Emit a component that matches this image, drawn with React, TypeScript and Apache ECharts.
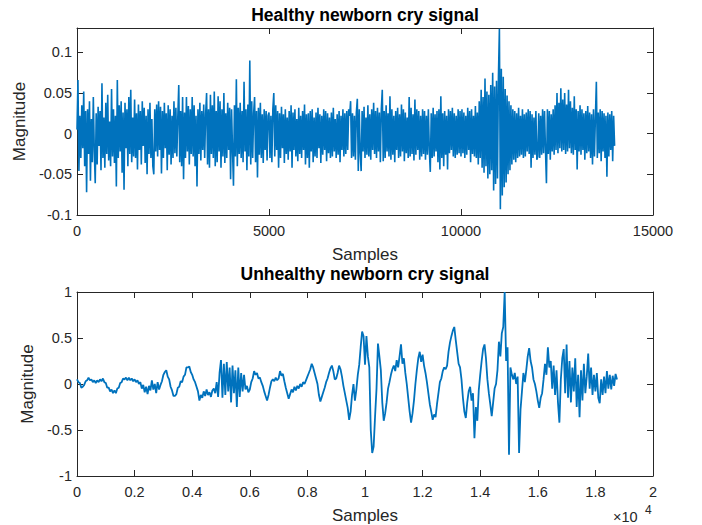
import React, { useEffect, useRef } from "react";
import * as echarts from "echarts";

// ---- Data ----
const healthyStep = 25; // samples between stored values
// healthy cry signal, magnitude in thousandths
const healthyMilli = [
  5, 66, -46, 22, -30, 35, -18, 52, -40, 28, -72, 30, -25, 40, -58, 18, -35, 45, -20, -61, 25, -38, 33, -15, 28, -45, 62, -30, 20, -42, 38, -25, 48, -33, 15, -40, 55, -28, 30, -36,
  22, -65, 66, -30, 35, -22, 40, -48, 26, -69, 38, -18, 30, -40, 45, -25, 54, -35, 20, -28, 42, -30, 25, -44, 36, -20, 28, -38, 40, -15, 32, -36, 22, -50, 30, -25, 38, -30, 18, -40,
  -50, 30, -22, 36, -28, 40, -20, 33, -49, 28, -30, 38, -18, 25, -45, 35, -26, 30, -38, 22, -30, 40, -24, 32, -28, 20, 60, -35, 28, -40, 45, -56, 26, -30, 45, -22, 34, -38, 30, -25,
  45, -28, 35, -40, 22, -65, 30, -25, 38, -33, 28, -20, 36, -30, 24, 50, -38, 30, -42, 48, -25, 35, -30, 52, -40, 28, -35, 46, -22, 40, -42, 30, -28, 50, -36, 25, -30, 38, -20, 32,
  -56, 30, -20, -64, 35, -28, 67, -40, 32, -25, 38, -30, 28, -35, 64, -22, 30, -45, 36, -28, 90, -38, 40, -30, 25, 45, -35, 28, -54, 32, -26, 38, -30, 24, -36, 30, -20, 28, -33, 22,
  26, -30, 22, -35, 30, 50, -28, 35, -20, 28, -42, 25, -30, 33, -18, 24, -36, 30, -25, 20, -32, 28, -22, 35, -42, 26, -20, 30, -28, 18, -34, 32, -25, 22, -30, 28, -20, 36, -38, 24,
  -30, 25, -42, 28, -22, 30, -35, 20, -28, 26, -30, 32, -18, 24, -36, 22, -26, 30, -20, 28, -34, 25, -24, 20, -30, 26, -28, 32, -22, 18, -30, 24, -26, 28, -35, 22, -20, 30, -28, 25,
  -25, 28, -20, 30, 22, 40, -30, 25, -28, 22, -32, 26, 43, -46, 30, -24, -46, 28, -22, 33, -30, 20, -26, 35, -28, 24, -32, 30, -20, 38, -25, 28, -30, 32, -22, 26, -35, 30, 54, -34,
  28, -30, 35, -22, 25, -28, 46, -32, 30, -26, 22, -35, 28, -20, 32, -30, 24, -28, 36, -22, 30, -34, 26, -24, 20, -30, 45, -28, 32, -25, 24, -33, 42, -26, 30, -20, 28, -32, 22, -28,
  30, -25, 28, -32, 22, -26, 30, -20, -47, 25, -30, 32, -28, 24, -22, 28, -35, 30, -44, 46, -30, 25, -40, 28, -26, 22, -44, 30, -24, 28, -20, 32, -28, 25, -30, 22, -26, 30, -24, 28,
  -28, 30, -24, 26, -30, 22, -26, 32, -20, 28, -35, 30, -25, 22, -28, 34, -30, 26, -38, 40, -30, 54, -42, 45, -48, 68, -40, 52, -55, 48, -50, 60, -45, 75, -70, 58, -62, 65, -55, 70,
  129, -93, 80, -76, 70, -66, 55, -60, 47, -50, 40, -45, 35, -38, 30, -32, 28, -35, 25, -30, 32, -28, 22, -26, 30, -30, 24, -28, 26, -22, 30, -25, 28, -42, 24, -30, 20, -26, 28, -32,
  -28, 25, -30, 22, -26, 30, -24, 28, -20, -61, 30, -25, 28, -32, 24, -22, 30, -26, 35, -20, 50, -24, 38, -18, 56, -22, 42, -20, 50, -25, 36, -22, 54, -18, 40, -24, 32, -26, 46, -20,
  30, -44, 28, -22, 35, -26, 30, -20, 25, -32, 28, -24, 34, -22, 26, -30, 24, -38, 30, -28, 20, 64, -30, 26, -24, 30, -34, 28, -22, 25, -30, 22, -53, 26, -28, 24, -20, 28, -34, 22,
  -15,
];

const unhealthyStep = 50;
// unhealthy cry signal, magnitude in hundredths
const unhealthyCenti = [
  5, 2, 1, -4, -3, -1, 3, 4, 7, 4, 5, 2, 4, 1, 4, 2, 5, 3, 6, 2,
  1, -4, -4, -8, -6, -10, -7, -10, -5, -4, 1, 2, 6, 5, 7, 4, 7, 4, 6, 3,
  5, 2, 4, 0, 2, -5, -1, -9, -3, -11, -2, -7, 4, -6, 0, -10, 2, -6, -1, 3,
  10, 13, 15, 8, 5, -3, -7, -13, -13, -11, -4, -3, 3, 2, 8, 10, 18, 18, 19, 13,
  10, 5, 2, -3, -8, -18, -12, -15, -8, -13, -6, -12, -9, -14, -7, -5, -10, 2, -14, 12,
  26, -15, 22, -12, 24, -8, 18, -20, 20, -10, 15, -25, 18, -14, 12, -8, 10, -6, -2, -9,
  -6, 2, 6, 14, 10, 12, 6, 7, 2, -2, -8, -13, -18, -12, -4, 3, 5, 3, 7, 4,
  6, 14, 9, 11, 3, -4, -10, -16, -11, -6, -9, -3, -7, -2, -5, 0, -3, 2, 0, 4,
  8, 12, 16, 22, 18, 12, 6, 0, -12, -19, -14, -9, -4, 2, 6, 12, 17, 20, 14, 5,
  6, 12, 20, 16, 8, -2, -10, -18, -26, -39, -30, -12, 0, -18, -6, 10, 21, 40, 57, 52,
  21, 52, 30, 18, -50, -75, -68, -35, -5, 44, 30, 15, -20, -40, -32, -20, -5, 2, 10, 16,
  20, 14, 26, 18, 30, 43, 22, 28, 12, 0, -15, -30, -42, -32, -18, 0, 15, 28, 35, 24,
  32, 20, 12, 2, -10, -22, -30, -39, -33, -36, -22, -10, 2, 6, 14, 18, 16, 20, 35, 45,
  52, 58, 62, 48, 35, 22, 18, 5, -15, -30, -37, -20, -8, -3, -18, -10, -59, -25, -40, -7,
  10, 25, 38, 43, 28, 5, -10, -22, -35, -20, -5, 0, 15, 46, 30, 55, 62, 100, 25, 40,
  -77, 18, 10, 5, 12, 0, 8, -75, -28, -8, 12, 2, 15, 30, 39, 25, 18, 5, 0, -8,
  -18, -26, -15, -10, 5, 22, 10, 40, 18, 25, -5, 20, -12, 15, -20, -42, 5, 28, 38, -10,
  43, -15, 25, -20, 18, -8, 28, -25, 10, -36, 15, -18, 22, -10, 8, 33, -5, 18, -12, 10,
  -8, 12, -15, -21, 5, -12, 8, -10, 14, -5, 10, -6, 9, -2, 11, 5,
];

const titles = ["Healthy newborn cry signal", "Unhealthy newborn cry signal"];
const xName = "Samples";
const yName = "Magnitude";
const topX = { min: 0, max: 15000, interval: 5000 };
const topY = { min: -0.1, max: 0.13, interval: 0.05 };
const botX = { min: 0, max: 20000, interval: 2000 };
const botY = { min: -1, max: 1, interval: 0.5 };
const expText = "×10";
const expSup = "4";

const FONT = '"Liberation Sans", Arial, Helvetica, sans-serif';
const AX = "#262626";
const LINE = "#0072BD";

function axisBase(range: any, position: string, gridIndex: number, showLabel: boolean) {
  return {
    type: "value",
    gridIndex,
    position,
    min: range.min,
    max: range.max,
    interval: range.interval,
    axisLine: { show: true, onZero: false, lineStyle: { color: AX, width: 1 } },
    axisTick: { show: true, inside: true, length: 6, lineStyle: { color: AX, width: 1 } },
    axisLabel: {
      show: showLabel,
      color: AX,
      fontSize: 14.5,
      fontFamily: FONT,
      showMaxLabel: range.max === 0.13 ? false : undefined,
      formatter: (v: number) => String(v),
    },
    splitLine: { show: false },
  };
}

export default function App() {
  const ref = useRef<HTMLDivElement>(null);
  useEffect(() => {
    if (!ref.current) return;
    const chart = echarts.init(ref.current, undefined, { renderer: "svg" });

    const xLabelName = {
      name: xName,
      nameLocation: "middle",
      nameGap: 31,
      nameTextStyle: { color: AX, fontSize: 17, fontFamily: FONT },
    };
    const yLabelName = {
      name: yName,
      nameLocation: "middle",
      nameGap: 41,
      nameTextStyle: { color: AX, fontSize: 17, fontFamily: FONT },
    };

    const x0: any = { ...axisBase(topX, "bottom", 0, true), ...xLabelName };
    x0.axisLabel.margin = 8;
    const x1: any = axisBase(topX, "top", 0, false);
    const x2: any = { ...axisBase(botX, "bottom", 1, true), ...xLabelName };
    x2.axisLabel.margin = 8;
    x2.axisLabel.formatter = (v: number) => String(Number((v / 10000).toFixed(1)));
    const x3: any = axisBase(botX, "top", 1, false);

    const y0: any = { ...axisBase(topY, "left", 0, true), ...yLabelName };
    y0.axisLabel.margin = 5;
    const y1: any = axisBase(topY, "right", 0, false);
    const y2: any = { ...axisBase(botY, "left", 1, true), ...yLabelName };
    y2.axisLabel.margin = 5;
    const y3: any = axisBase(botY, "right", 1, false);

    chart.setOption({
      animation: false,
      backgroundColor: "#ffffff",
      grid: [
        { left: 77, top: 28, width: 576, height: 187 },
        { left: 77, top: 292, width: 576, height: 187 },
      ],
      xAxis: [x0, x1, x2, x3],
      yAxis: [y0, y1, y2, y3],
      series: [
        {
          type: "line",
          xAxisIndex: 0,
          yAxisIndex: 0,
          data: healthyMilli.map((v, i) => [i * healthyStep, v / 1000]),
          symbol: "none",
          showSymbol: false,
          lineStyle: { color: LINE, width: 1.6 },
          silent: true,
        },
        {
          type: "line",
          xAxisIndex: 2,
          yAxisIndex: 2,
          data: unhealthyCenti.map((v, i) => [i * unhealthyStep, v / 100]),
          symbol: "none",
          showSymbol: false,
          lineStyle: { color: LINE, width: 1.8 },
          silent: true,
        },
      ],
      graphic: [
        {
          type: "text",
          x: 365,
          y: 6,
          style: { text: titles[0], fill: "#000", font: `bold 17.5px ${FONT}`, textAlign: "center", textVerticalAlign: "top" },
        },
        {
          type: "text",
          x: 365,
          y: 265,
          style: { text: titles[1], fill: "#000", font: `bold 17.5px ${FONT}`, textAlign: "center", textVerticalAlign: "top" },
        },
        {
          type: "text",
          x: 613,
          y: 509,
          style: { text: expText, fill: AX, font: `14.5px ${FONT}`, textAlign: "left", textVerticalAlign: "top" },
        },
        {
          type: "text",
          x: 645,
          y: 504,
          style: { text: expSup, fill: AX, font: `12px ${FONT}`, textAlign: "left", textVerticalAlign: "top" },
        },
      ],
    });
    return () => chart.dispose();
  }, []);
  return (
    <div
      ref={ref}
      style={{ position: "absolute", left: 0, top: 0, width: 702, height: 525, background: "#fff" }}
    />
  );
}
